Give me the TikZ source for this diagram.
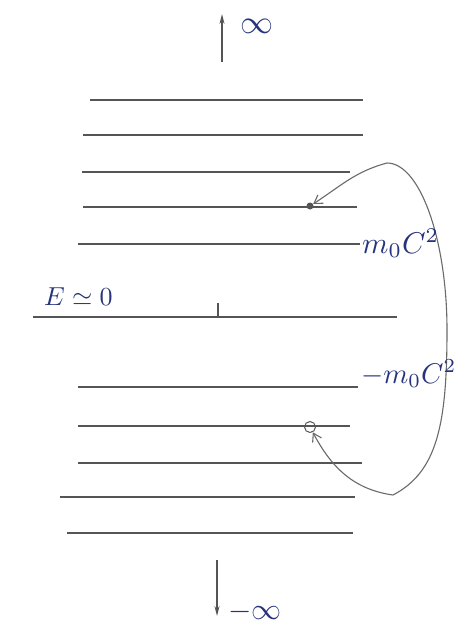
\documentclass[tikz,border=0pt]{standalone}
\usepackage{graphicx}
\usetikzlibrary{arrows.meta}
\definecolor{linegray}{HTML}{555555}
\definecolor{curvegray}{HTML}{6A6A6A}
\definecolor{inkblue}{HTML}{27347C}
\begin{document}
\begin{tikzpicture}[x=1pt,y=1pt,
  level/.style={draw=linegray, line width=1.2pt},
  lbl/.style={text=inkblue, inner sep=0pt},
  conn/.style={draw=curvegray, line width=1.1pt},
  vert/.style={draw=linegray, line width=1.4pt, -{Stealth[length=10pt,width=5pt]}}]
\useasboundingbox (0,-626) rectangle (476,0);
\fill[white] (0,-626) rectangle (476,0);
% energy levels
\foreach \yy/\xa/\xb in {100/90/363, 135/83/363, 172/82/350, 207/83/357, 244/78/360,
                          387/78/358, 426/78/350, 463/78/362, 497/60/355, 533/67/353}
  \draw[level] (\xa,-\yy) -- (\xb,-\yy);
% zero level
\draw[level] (33,-317) -- (397,-317);
\draw[level] (218,-303) -- (218,-317);
% electron and hole
\node[circle, fill=linegray, inner sep=0pt, minimum size=7pt] (elec) at (310,-206) {};
\node[circle, draw=linegray, line width=1pt, inner sep=0pt, minimum size=11pt] (hole) at (310,-427) {};
\coordinate (ctop) at (387,-163);
\coordinate (cright) at (447,-330);
\coordinate (cbot) at (393,-495);
\draw[conn, {Straight Barb[length=8pt,width=10pt]}-{Straight Barb[length=8pt,width=10pt]}]
  (elec) to[out=33,in=195] (ctop)
  .. controls (420,-163) and (447,-240) .. (cright)
  .. controls (447,-425) and (437,-472) .. (cbot)
  to[out=172,in=-62] (hole);
% labels
\node[lbl, anchor=base west] (mpos) at (362,-253) {\scalebox{3}{$m_{0}C^{2}$}};
\node[lbl, anchor=base west] (mneg) at (361,-383) {\scalebox{2.85}{$-m_{0}C^{2}$}};
\node[lbl, anchor=base west] (ezero) at (44,-305) {\scalebox{2.6}{$E\simeq 0$}};
% infinities
\coordinate (upA) at (222,-62);
\coordinate (upB) at (222,-14);
\draw[vert] (upA) -- (upB);
\node[lbl, anchor=base west] (pinf) at (240,-34) {\scalebox{3.3}{$\infty$}};
\coordinate (dnA) at (217,-560);
\coordinate (dnB) at (217,-616);
\draw[vert] (dnA) -- (dnB);
\node[lbl, anchor=base west] (minf) at (228,-619) {\scalebox{3}{$-\infty$}};
\end{tikzpicture}
\end{document}
